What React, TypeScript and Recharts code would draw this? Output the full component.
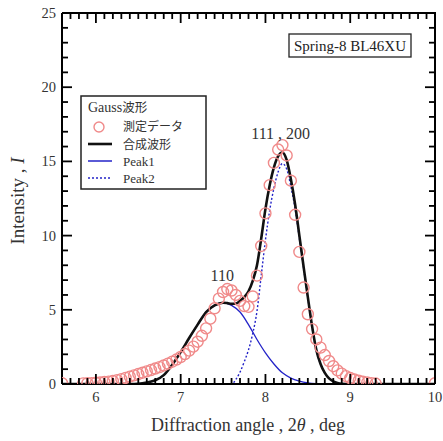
import React from 'react';
import { ComposedChart, Line, Scatter, XAxis, YAxis, ReferenceDot } from 'recharts';

// ---- data ----
const measuredX = [5.6, 5.85, 5.9, 5.95, 6.0, 6.05, 6.1, 6.15, 6.2, 6.25, 6.3, 6.35, 6.4, 6.45, 6.5, 6.55, 6.6, 6.65, 6.7, 6.75, 6.8, 6.85, 6.9, 6.95, 7.0, 7.05, 7.1, 7.15, 7.2, 7.25, 7.3, 7.35, 7.4, 7.45, 7.5, 7.55, 7.6, 7.65, 7.7, 7.75, 7.8, 7.85, 7.9, 7.95, 8.0, 8.05, 8.1, 8.15, 8.2, 8.25, 8.3, 8.35, 8.4, 8.45, 8.5, 8.55, 8.6, 8.65, 8.7, 8.75, 8.8, 8.85, 8.9, 8.95, 9.0, 9.05, 9.1, 9.15, 9.2, 9.25, 9.3, 10.0];
const measuredY = [0.05, 0.04, 0.05, 0.06, 0.08, 0.1, 0.13, 0.16, 0.2, 0.26, 0.33, 0.41, 0.5, 0.58, 0.67, 0.76, 0.85, 0.94, 1.04, 1.14, 1.25, 1.37, 1.5, 1.65, 1.82, 2.02, 2.25, 2.52, 2.85, 3.25, 3.75, 4.4, 5.1, 5.75, 6.2, 6.4, 6.3, 6.0, 5.6, 5.25, 5.2, 5.9, 7.3, 9.3, 11.5, 13.4, 14.9, 15.8, 16.1, 15.4, 13.7, 11.4, 8.9, 6.5, 4.7, 3.7, 3.0, 2.45, 1.95, 1.55, 1.2, 0.92, 0.7, 0.53, 0.4, 0.3, 0.22, 0.15, 0.1, 0.06, 0.03, 0.05];

const compositeX = [5.6, 6.4, 6.5, 6.6, 6.7, 6.8, 6.9, 7.0, 7.1, 7.2, 7.3, 7.4, 7.5, 7.55, 7.6, 7.65, 7.7, 7.75, 7.8, 7.85, 7.9, 7.95, 8.0, 8.05, 8.1, 8.15, 8.2, 8.25, 8.3, 8.35, 8.4, 8.45, 8.5, 8.55, 8.6, 8.65, 8.7, 8.75, 8.8, 8.85, 8.9, 9.0, 10.0];
const compositeY = [0, 0, 0.02, 0.1, 0.25, 0.6, 1.3, 2.15, 3.1, 4.0, 4.85, 5.3, 5.48, 5.45, 5.4, 5.42, 5.6, 5.85, 6.25, 6.95, 8.0, 9.8, 11.8, 13.4, 14.6, 15.35, 15.6, 15.1, 13.8, 12.1, 10.0, 7.9, 5.85, 3.9, 2.3, 1.35, 0.75, 0.38, 0.18, 0.07, 0.02, 0, 0];

const peak1X = [5.6, 6.4, 6.5, 6.6, 6.7, 6.8, 6.9, 7.0, 7.1, 7.2, 7.3, 7.4, 7.5, 7.6, 7.7, 7.8, 7.9, 8.0, 8.1, 8.2, 8.3, 8.4, 8.5, 8.6, 8.7, 10.0];
const peak1Y = [0, 0, 0.02, 0.1, 0.25, 0.6, 1.3, 2.15, 3.1, 4.0, 4.85, 5.3, 5.48, 5.3, 4.85, 4.0, 3.0, 2.1, 1.35, 0.75, 0.4, 0.2, 0.08, 0.02, 0, 0];

const peak2X = [5.6, 7.6, 7.65, 7.7, 7.75, 7.8, 7.85, 7.9, 7.95, 8.0, 8.05, 8.1, 8.15, 8.2, 8.25, 8.3, 8.35, 8.4, 8.45, 8.5, 8.55, 8.6, 8.65, 8.7, 8.75, 8.8, 8.85, 8.9, 9.0, 10.0];
const peak2Y = [0, 0, 0.3, 0.8, 1.5, 2.3, 3.4, 4.9, 7.3, 9.7, 11.7, 13.2, 14.3, 14.85, 14.5, 13.3, 11.8, 9.8, 7.8, 5.8, 3.8, 2.25, 1.35, 0.75, 0.38, 0.18, 0.07, 0.02, 0, 0];

const xTickLabels = [6, 7, 8, 9, 10];
const yTickLabels = [0, 5, 10, 15, 20, 25];
const xDomain: [number, number] = [5.6, 10];
const yDomain: [number, number] = [0, 25];

const annotations = [
  { x: 7.49, y: 7.3, text: '110' },
  { x: 8.18, y: 16.85, text: '111 , 200' },
];

const legendTitleLatin = 'Gauss';
const legendTitleCJK = '波形';
const seriesNames = { measured: '測定データ', composite: '合成波形', peak1: 'Peak1', peak2: 'Peak2' };
const sourceLabel = 'Spring-8 BL46XU';

// ---- layout ----
const W = 443;
const H = 441;
const MARGIN = { top: 13, right: 8, bottom: 0, left: 0 };
const Y_AXIS_W = 62;
const X_AXIS_H = 57;
const PLOT = {
  left: MARGIN.left + Y_AXIS_W,
  right: W - MARGIN.right,
  top: MARGIN.top,
  bottom: H - MARGIN.bottom - X_AXIS_H,
};

// ---- helpers ----
const pts = (xs: number[], ys: number[]) => xs.map((x, i) => ({ x, y: ys[i] }));
const measured = pts(measuredX, measuredY);
const composite = pts(compositeX, compositeY);
const peak1 = pts(peak1X, peak1Y);
const peak2 = pts(peak2X, peak2Y);

// minor tick positions (every 0.1 on x, every 1 on y)
const xMinor: number[] = [];
for (let i = 0; i <= 44; i++) xMinor.push(Math.round((5.6 + i * 0.1) * 100) / 100);
const yMinor: number[] = [];
for (let i = 0; i <= 25; i++) yMinor.push(i);

const isMajorX = (v: number) => xTickLabels.some((t) => Math.abs(t - v) < 1e-6);
const isMajorY = (v: number) => yTickLabels.some((t) => Math.abs(t - v) < 1e-6);
const sx = (v: number) => PLOT.left + ((v - xDomain[0]) / (xDomain[1] - xDomain[0])) * (PLOT.right - PLOT.left);
const sy = (v: number) => PLOT.bottom - ((v - yDomain[0]) / (yDomain[1] - yDomain[0])) * (PLOT.bottom - PLOT.top);

const SERIF = '"Liberation Serif", "Times New Roman", serif';
const CJK = '"Noto Sans CJK JP", sans-serif';
const PINK = '#f08a8a';
const BLUE = '#2323c8';
const TXT = '#333';
const FRAME = '#000';
const MAJ = 10;
const MIN = 6;

const axisLine = { stroke: FRAME, strokeWidth: 2 };

const BottomTick = (p: any) => (
  <text x={p.x} y={p.y + 18} textAnchor="middle" fontFamily={SERIF} fontSize={14.5} fill={TXT}>{p.payload.value}</text>
);
const LeftTick = (p: any) => (
  <text x={p.x - 6} y={p.y + 5} textAnchor="end" fontFamily={SERIF} fontSize={14.5} fill={TXT}>{p.payload.value}</text>
);

const Circle = (props: any) => {
  const { cx, cy } = props;
  if (cx == null || cy == null) return <g />;
  return <circle cx={cx} cy={cy} r={5.5} fill="none" stroke={PINK} strokeWidth={1.4} />;
};

const AnnotationLabel = (text: string) => (props: any) => {
  const vb = props.viewBox || {};
  const cx = (vb.x ?? 0) + (vb.width ?? 0) / 2;
  const cy = (vb.y ?? 0) + (vb.height ?? 0) / 2;
  return (
    <text x={cx} y={cy + 5} textAnchor="middle" fontFamily={SERIF} fontSize={16} fill={TXT}>{text}</text>
  );
};

export default function App() {
  const ticks: React.ReactNode[] = [];
  xMinor.forEach((v) => {
    const len = isMajorX(v) ? MAJ : MIN;
    const x = sx(v);
    ticks.push(<path key={'xb' + v} d={`M${x},${PLOT.bottom}V${PLOT.bottom - len}`} stroke={FRAME} strokeWidth={1.8} fill="none" />);
    ticks.push(<path key={'xt' + v} d={`M${x},${PLOT.top}V${PLOT.top + len}`} stroke={FRAME} strokeWidth={1.8} fill="none" />);
  });
  yMinor.forEach((v) => {
    const len = isMajorY(v) ? MAJ : MIN;
    const y = sy(v);
    ticks.push(<path key={'yl' + v} d={`M${PLOT.left},${y}H${PLOT.left + len}`} stroke={FRAME} strokeWidth={1.8} fill="none" />);
    ticks.push(<path key={'yr' + v} d={`M${PLOT.right},${y}H${PLOT.right - len}`} stroke={FRAME} strokeWidth={1.8} fill="none" />);
  });

  return (
    <div style={{ position: 'absolute', left: 0, top: 0, width: W, height: H, background: '#fff' }}>
      <ComposedChart width={W} height={H} margin={MARGIN}>
        <XAxis type="number" dataKey="x" domain={xDomain} ticks={xTickLabels} allowDataOverflow
          orientation="bottom" height={X_AXIS_H} interval={0} axisLine={axisLine} tickLine={false}
          tickSize={0} tickMargin={0} tick={<BottomTick />} />
        <YAxis type="number" dataKey="y" domain={yDomain} ticks={yTickLabels} allowDataOverflow
          orientation="left" width={Y_AXIS_W} interval={0} axisLine={axisLine} tickLine={false}
          tickSize={0} tickMargin={0} tick={<LeftTick />} />

        <Scatter name={seriesNames.measured} data={measured} dataKey="y" shape={Circle} isAnimationActive={false} />
        <Line name={seriesNames.peak1} data={peak1} dataKey="y" type="monotone" stroke={BLUE} strokeWidth={1.3} dot={false} isAnimationActive={false} />
        <Line name={seriesNames.peak2} data={peak2} dataKey="y" type="monotone" stroke={BLUE} strokeWidth={1.4} strokeDasharray="2 2" dot={false} isAnimationActive={false} />
        <Line name={seriesNames.composite} data={composite} dataKey="y" type="monotone" stroke="#111" strokeWidth={2.6} dot={false} isAnimationActive={false} />

        {annotations.map((a) => (
          <ReferenceDot key={a.text} x={a.x} y={a.y} r={0} fill="none" stroke="none"
            label={AnnotationLabel(a.text)} />
        ))}
      </ComposedChart>

      <svg width={W} height={H} style={{ position: 'absolute', left: 0, top: 0, pointerEvents: 'none' }}>
        {/* frame */}
        <path d={`M${PLOT.left},${PLOT.top}H${PLOT.right}V${PLOT.bottom}`} stroke={FRAME} strokeWidth={2} fill="none" />
        {/* inward ticks on all four sides */}
        {ticks}

        {/* axis titles */}
        <text transform="translate(24,201) rotate(-90)" textAnchor="middle" fontFamily={SERIF} fontSize={19} fill={TXT}>
          Intensity , <tspan fontStyle="italic">I</tspan>
        </text>
        <text x={248} y={431} textAnchor="middle" fontFamily={SERIF} fontSize={18} fill={TXT}>
          Diffraction angle , 2<tspan fontStyle="italic">θ</tspan> , deg
        </text>

        {/* source box */}
        <rect x={289} y={34} width={122} height={23} fill="#fff" stroke="#222" strokeWidth={1.3} />
        <text x={350} y={50.5} textAnchor="middle" fontFamily={SERIF} fontSize={15} fill="#222">{sourceLabel}</text>

        {/* legend */}
        <rect x={81} y={96} width={125} height={93} fill="#fff" stroke="#222" strokeWidth={1.5} />
        <text x={88} y={112} fontFamily={SERIF} fontSize={14} fill={TXT}>
          {legendTitleLatin}<tspan fontFamily={CJK} fontSize={12.5}>{legendTitleCJK}</tspan>
        </text>
        <circle cx={99} cy={127} r={5} fill="none" stroke={PINK} strokeWidth={1.4} />
        <text x={123} y={130.5} fontFamily={CJK} fontSize={12} fill={TXT}>{seriesNames.measured}</text>
        <line x1={88} x2={112} y1={144} y2={144} stroke="#111" strokeWidth={2.6} />
        <text x={123} y={148.5} fontFamily={CJK} fontSize={12} fill={TXT}>{seriesNames.composite}</text>
        <line x1={88} x2={112} y1={161} y2={161} stroke={BLUE} strokeWidth={1.5} />
        <text x={123} y={165.5} fontFamily={SERIF} fontSize={13} fill={TXT}>{seriesNames.peak1}</text>
        <line x1={88} x2={112} y1={178} y2={178} stroke={BLUE} strokeWidth={1.5} strokeDasharray="2 2" />
        <text x={123} y={182.5} fontFamily={SERIF} fontSize={13} fill={TXT}>{seriesNames.peak2}</text>
      </svg>
    </div>
  );
}
